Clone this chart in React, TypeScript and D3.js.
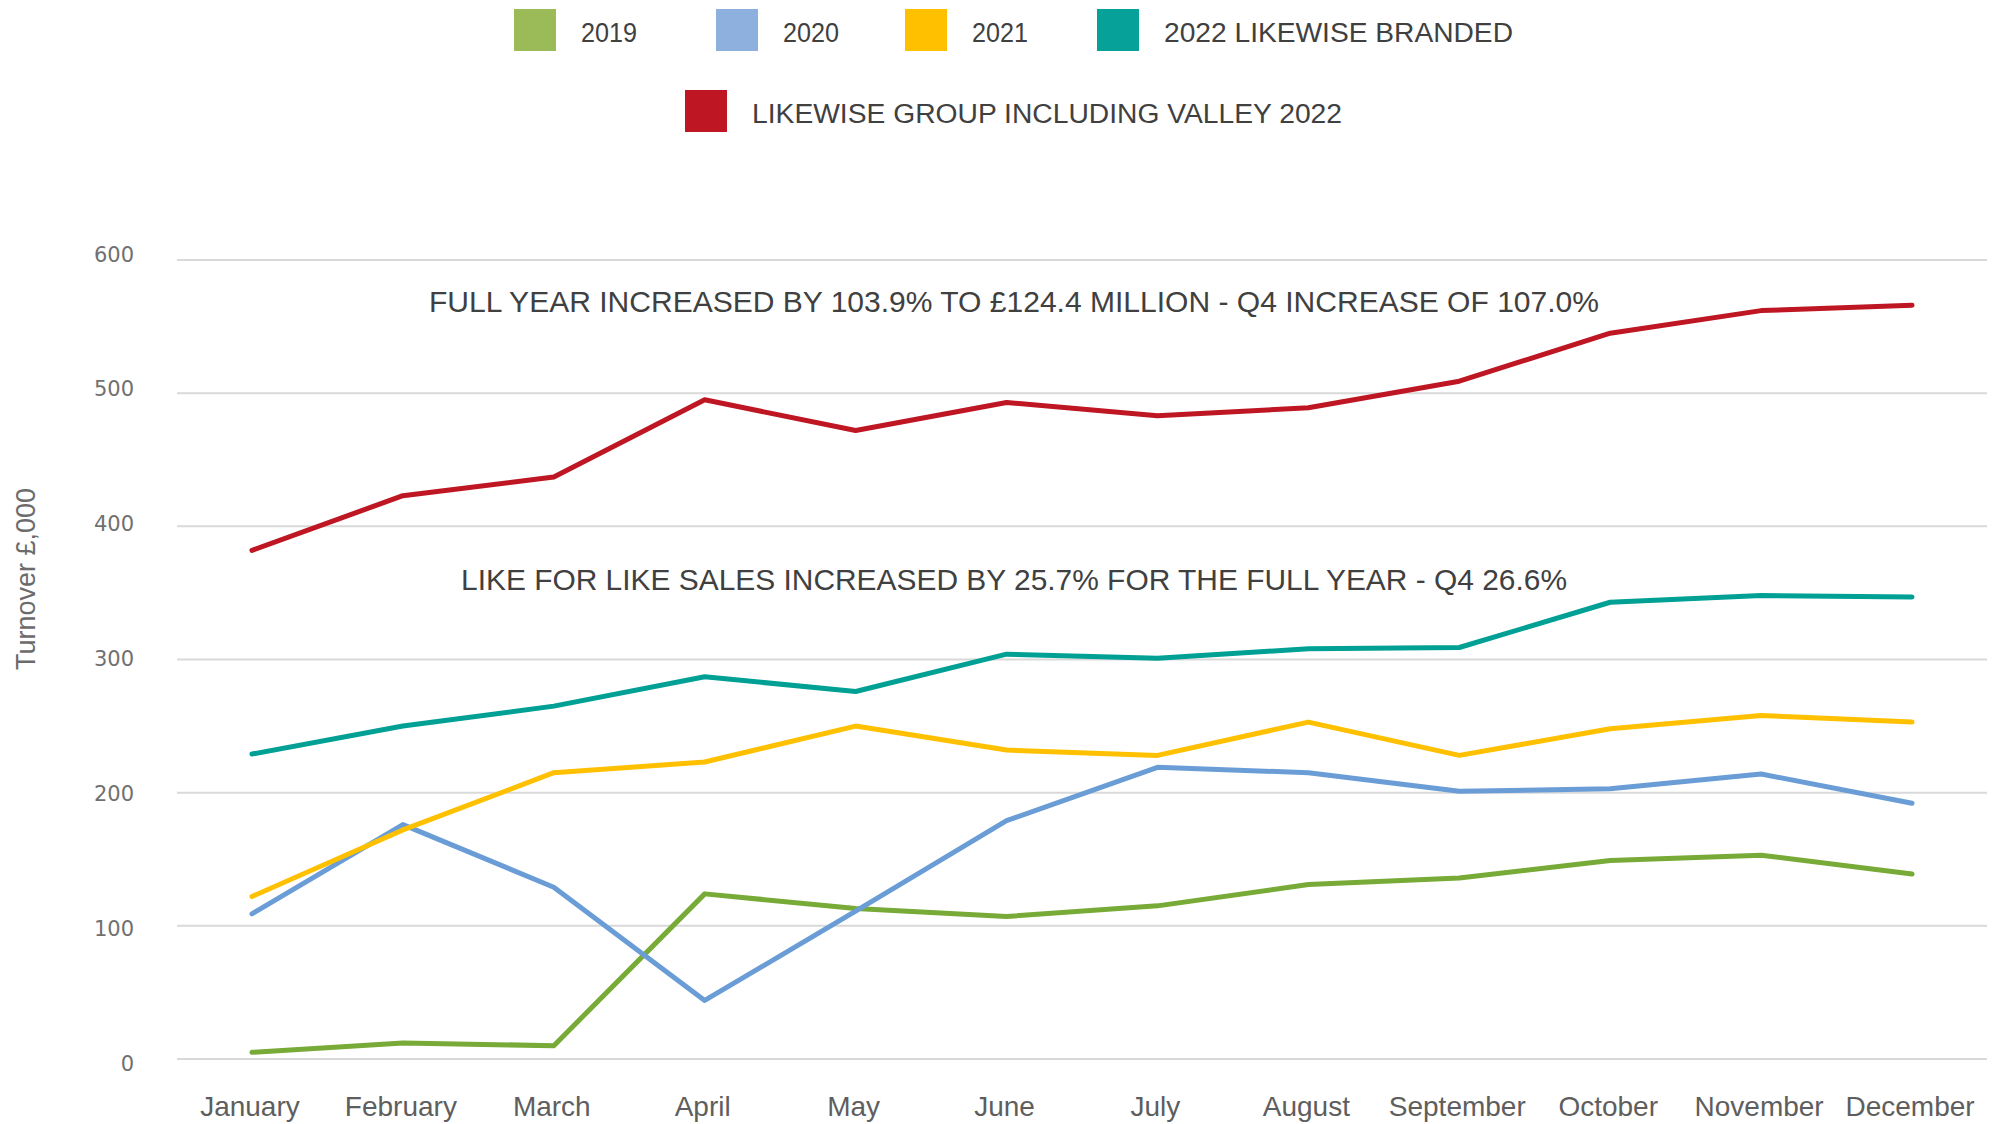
import * as d3 from 'd3';
import { useRef, useEffect } from 'react';

// Months on the x axis
const months = ['January', 'February', 'March', 'April', 'May', 'June', 'July', 'August', 'September', 'October', 'November', 'December'];

// Monthly turnover, £,000
const sales2019 = [5, 12, 10, 124, 113, 107, 115, 131, 136, 149, 153, 139];
const sales2020 = [109, 176, 129, 44, 111, 179, 219, 215, 201, 203, 214, 192];
const sales2021 = [122, 172, 215, 223, 250, 232, 228, 253, 228, 248, 258, 253];
const sales2022Branded = [229, 250, 265, 287, 276, 304, 301, 308, 309, 343, 348, 347];
const salesGroup2022 = [382, 423, 437, 495, 472, 493, 483, 489, 509, 545, 562, 566];

const yTicks = [0, 100, 200, 300, 400, 500, 600];

const seriesNames = ['2019', '2020', '2021', '2022 LIKEWISE BRANDED', 'LIKEWISE GROUP INCLUDING VALLEY 2022'];

const notes = [
    'FULL YEAR INCREASED BY 103.9% TO £124.4 MILLION - Q4 INCREASE OF 107.0%',
    'LIKE FOR LIKE SALES INCREASED BY 25.7% FOR THE FULL YEAR - Q4 26.6%'
];

export default function App() {
    const ref = useRef(null);

    useEffect(() => {
        const width = 2004;
        const height = 1124;
        const margin = { top: 260, right: 17, bottom: 65, left: 177 };
        const textColor = '#404040';

        const svg = d3.select(ref.current)
            .attr('width', width)
            .attr('height', height);
        svg.selectAll('*').remove();

        const series = [
            { name: seriesNames[0], values: sales2019, line: '#77AA36', swatch: '#9BBB59' },
            { name: seriesNames[1], values: sales2020, line: '#6A9DD6', swatch: '#8DB0DE' },
            { name: seriesNames[2], values: sales2021, line: '#FFC000', swatch: '#FFC000' },
            { name: seriesNames[3], values: sales2022Branded, line: '#00A095', swatch: '#06A199' },
            { name: seriesNames[4], values: salesGroup2022, line: '#BE1622', swatch: '#BE1622' }
        ];

        const xScale = d3.scalePoint()
            .domain(months)
            .range([176.5, 1987.5])
            .padding(0.5);

        const yScale = d3.scaleLinear()
            .domain([0, 600])
            .range([height - margin.bottom, margin.top]);

        // tick labels sit slightly spread compared to the grid
        const yLabel = d3.scaleLinear()
            .domain([0, 600])
            .range([1063, 254]);

        // gridlines
        svg.append('g')
            .selectAll('line')
            .data(yTicks)
            .enter().append('line')
            .attr('x1', margin.left)
            .attr('x2', width - margin.right)
            .attr('y1', d => yScale(d))
            .attr('y2', d => yScale(d))
            .attr('stroke', '#d9d9d9')
            .attr('stroke-width', 2);

        // y tick labels
        svg.append('g')
            .selectAll('text')
            .data(yTicks)
            .enter().append('text')
            .attr('x', 134)
            .attr('y', d => yLabel(d))
            .attr('dy', '0.36em')
            .attr('text-anchor', 'end')
            .style('font-family', '"DejaVu Sans", sans-serif')
            .style('font-size', '21px')
            .style('fill', '#707070')
            .text(d => d);

        // y axis title
        svg.append('text')
            .attr('transform', 'translate(35,579) rotate(-90)')
            .attr('text-anchor', 'middle')
            .style('font-family', '"Liberation Sans", Arial, sans-serif')
            .style('font-size', '27px')
            .style('fill', '#6b6b6b')
            .text('Turnover £,000');

        // x labels
        svg.append('g')
            .selectAll('text')
            .data(months)
            .enter().append('text')
            .attr('x', d => xScale(d) - 2)
            .attr('y', 1116)
            .attr('text-anchor', 'middle')
            .style('font-family', '"Liberation Sans", Arial, sans-serif')
            .style('font-size', '28px')
            .style('fill', '#5e5e5e')
            .text(d => d);

        // lines
        const line = d3.line()
            .x((d, i) => xScale(months[i]))
            .y(d => yScale(d));

        svg.append('g')
            .selectAll('path')
            .data(series)
            .enter().append('path')
            .attr('d', d => line(d.values))
            .attr('fill', 'none')
            .attr('stroke', d => d.line)
            .attr('stroke-width', 5)
            .attr('stroke-linejoin', 'round')
            .attr('stroke-linecap', 'round');

        // annotations
        svg.selectAll('.note')
            .data(notes)
            .enter().append('text')
            .attr('class', 'note')
            .attr('x', 1014)
            .attr('y', (d, i) => (i === 0 ? 312 : 590))
            .attr('text-anchor', 'middle')
            .attr('textLength', (d, i) => (i === 0 ? 1170 : 1106))
            .attr('lengthAdjust', 'spacingAndGlyphs')
            .style('font-family', '"Liberation Sans", Arial, sans-serif')
            .style('font-size', '30px')
            .style('fill', textColor)
            .text(d => d);

        // legend
        const legendPos = [
            { x: 514, y: 9, len: 56 },
            { x: 716, y: 9, len: 56 },
            { x: 905, y: 9, len: 56 },
            { x: 1097, y: 9, len: 349 },
            { x: 685, y: 90, len: 590 }
        ];

        const legend = svg.append('g')
            .selectAll('g')
            .data(series)
            .enter().append('g')
            .attr('transform', (d, i) => `translate(${legendPos[i].x},${legendPos[i].y})`);

        legend.append('rect')
            .attr('width', 42)
            .attr('height', 42)
            .attr('fill', d => d.swatch);

        legend.append('text')
            .attr('x', 67)
            .attr('y', 33)
            .attr('textLength', (d, i) => legendPos[i].len)
            .attr('lengthAdjust', 'spacingAndGlyphs')
            .style('font-family', '"Liberation Sans", Arial, sans-serif')
            .style('font-size', '27px')
            .style('fill', textColor)
            .text(d => d.name);
    }, []);

    return (
        <svg ref={ref} style={{ position: 'absolute', left: 0, top: 0, display: 'block', background: '#fff' }}></svg>
    );
}
